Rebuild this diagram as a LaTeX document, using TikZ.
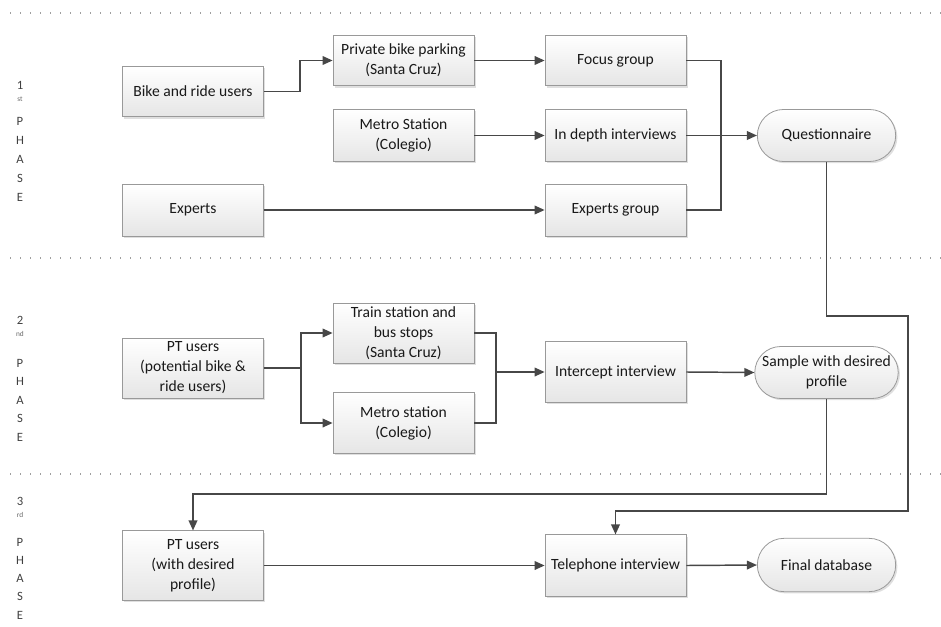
\documentclass[tikz,border=0pt]{standalone}
\usepackage{fontspec}
\setmainfont{Carlito}
\usepackage{tikz}
\usetikzlibrary{shapes.misc, arrows.meta, shadows}

\tikzset{
  stepbox/.style={draw=gray!80, line width=0.6pt, top color=white, bottom color=gray!20,
    drop shadow={shadow xshift=1.3pt, shadow yshift=-1.3pt, opacity=0.25},
    minimum width=105.75pt, align=center, text=black!90, inner sep=1pt,
    font=\fontsize{11.7}{15}\selectfont},
  endbox/.style={stepbox, rounded rectangle},
  link/.style={draw=black!72, line width=1.1pt},
  arr/.style={link, -{Triangle[length=7.5pt, width=6.5pt]}},
  sep/.style={draw=gray!75, line width=0.8pt, dash pattern=on 0.8pt off 6.7pt},
  phase/.style={text=black!75, font=\fontsize{9.5}{10}\selectfont, inner sep=0pt},
  phasesup/.style={text=black!60, font=\fontsize{5.5}{6}\selectfont, inner sep=0pt}
}

\begin{document}
\begin{tikzpicture}[x=0.75pt, y=-0.75pt]
\useasboundingbox (0,0) rectangle (941,627);

% phase separators
\draw[sep] (10,13) -- (941,13);
\draw[sep] (10,258) -- (941,258);
\draw[sep] (10,474) -- (941,474);

% phase labels
\foreach \num/\suf/\yn/\yp/\dy in {1/st/85/121/19, 2/nd/320/363/18.5, 3/rd/501/542/18.3} {
  \node[phase] (ph\num) at (20,\yn) {\num};
  \node[phasesup] (ph\num s) at (20,\yn+14) {\suf};
  \foreach \ltr [count=\i from 0] in {P,H,A,S,E}
    \node[phase] (ph\num-\i) at (20,\yp+\dy*\i) {\ltr};
}

% 1st phase
\node[stepbox, minimum height=38pt] (bike) at (193,91.5) {Bike and ride users};
\node[stepbox, minimum height=38pt] (private) at (403.5,60.5) {Private bike parking\\(Santa Cruz)};
\node[stepbox, minimum height=39pt] (metroA) at (403.5,135.5) {Metro Station\\(Colegio)};
\node[stepbox, minimum height=38pt] (focus) at (615.5,60.5) {Focus group};
\node[stepbox, minimum height=39pt] (depth) at (615.5,135.5) {In depth interviews};
\node[endbox, minimum height=39pt] (quest) at (826.5,135.5) {Questionnaire};
\node[stepbox, minimum height=39pt] (experts) at (193,210) {Experts};
\node[stepbox, minimum height=39pt] (expgrp) at (615.5,210) {Experts group};

% 2nd phase
\node[stepbox, minimum height=45pt] (ptpot) at (193,368) {PT users\\(potential bike \&\\ride users)};
\node[stepbox, minimum height=45pt] (train) at (403.5,333) {Train station and\\bus stops\\(Santa Cruz)};
\node[stepbox, minimum height=46pt] (metroB) at (403.5,423) {Metro station\\(Colegio)};
\node[stepbox, minimum height=46pt] (intercept) at (615.5,372) {Intercept interview};
\node[endbox, minimum height=39pt] (sample) at (826.5,372.5) {Sample with desired\\profile};

% 3rd phase
\node[stepbox, minimum height=52pt] (ptdes) at (193,565.5) {PT users\\(with desired\\profile)};
\node[stepbox, minimum height=46pt] (tel) at (615.5,565.5) {Telephone interview};
\node[endbox, minimum height=40pt] (final) at (826.5,565) {Final database};

\coordinate (jn) at (721,135.5);
\coordinate (mj) at (496,372);
\coordinate (qa) at (908,316);
\coordinate (qb) at (908,511);
\coordinate (sb) at (826.5,494);

% connectors
\draw[arr] (bike.east) -- ++(36,0) |- (private.west);
\draw[arr] (private.east) -- (focus.west);
\draw[arr] (metroA.east) -- (depth.west);
\draw[arr] (experts.east) -- (expgrp.west);
\draw[link] (focus.east) -| (jn);
\draw[link] (expgrp.east) -| (jn);
\draw[arr] (depth.east) -- (quest.west);

\draw[arr] (ptpot.east) -- ++(37,0) |- (train.west);
\draw[arr] (ptpot.east) -- ++(37,0) |- (metroB.west);
\draw[link] (train.east) -| (mj);
\draw[link] (metroB.east) -| (mj);
\draw[arr] (mj) -- (intercept.west);
\draw[arr] (intercept.east) -- (sample.west);

\draw[arr] (quest.south) |- (qa) -- (qb) -| (tel.north);
\draw[arr] (sample.south) -- (sb) -| (ptdes.north);
\draw[arr] (ptdes.east) -- (tel.west);
\draw[arr] (tel.east) -- (final.west);

\end{tikzpicture}
\end{document}
